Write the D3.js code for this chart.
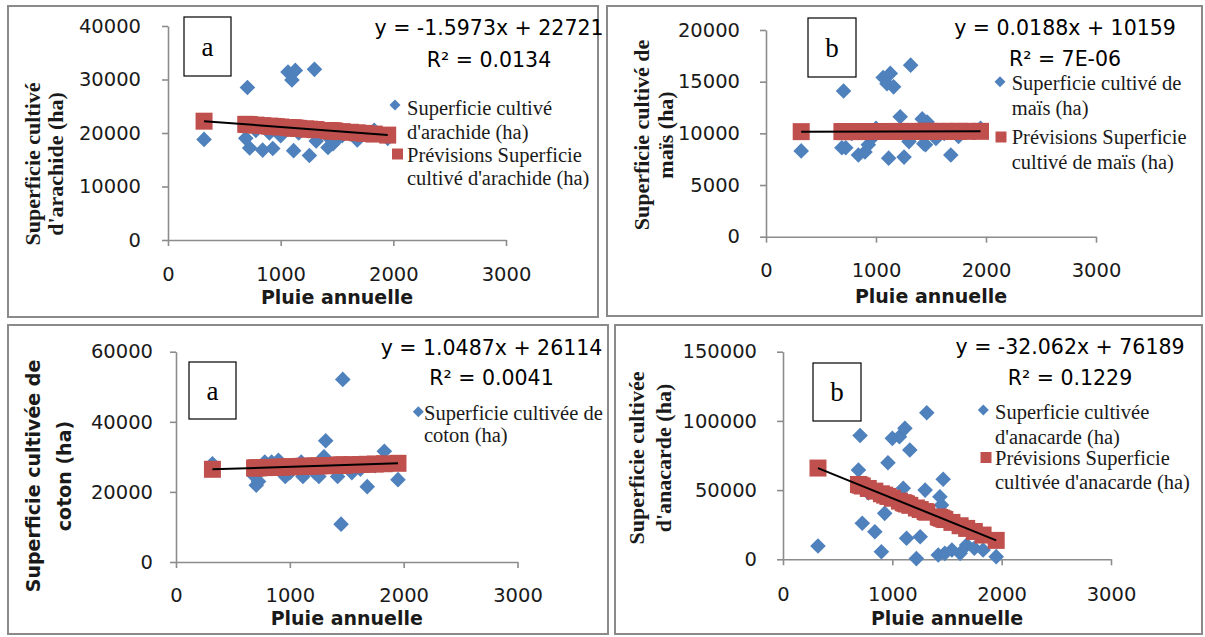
<!DOCTYPE html>
<html>
<head>
<meta charset="utf-8">
<script src="https://cdn.jsdelivr.net/npm/d3@7"></script>
<style>
  body { margin: 0; background: #fff; }
  svg { display: block; }
  .tick text { font-family: "DejaVu Sans", sans-serif; font-size: 19.5px; fill: #1a1a1a; }
  .tick line, .domain { stroke: #8c8c8c; stroke-width: 1.6px; }
</style>
</head>
<body>
<svg id="chart" width="1205" height="637"></svg>
<script>
// Annual rainfall (mm), shared by the four crops
const rainfall = [320, 690, 705, 725, 780, 840, 900, 930, 960, 1000, 1065, 1100, 1115, 1130, 1160,
                  1220, 1255, 1300, 1315, 1420, 1435, 1450, 1465, 1480, 1545, 1620, 1680, 1750, 1830, 1950];

// Cultivated area (ha) per crop, same order as rainfall
const arachide = [18800, 19000, 28500, 17200, 20500, 16800, 20000, 17100, 21000, 19500, 31400, 29900, 16700, 31700, 20000,
                  21000, 15800, 31900, 18500, 17300, 19000, 20500, 18000, 18400, 19500, 20000, 18700, 19800, 20500, 19000];
const mais     = [8300, 8600, 14100, 8600, 10000, 7900, 8200, 8900, 9500, 10500, 15400, 14800, 7600, 15800, 14500,
                  11600, 7700, 9200, 16600, 11400, 9000, 8900, 11100, 10500, 9500, 10000, 7900, 9700, 10300, 10500];
const coton    = [28000, 24500, 21900, 23000, 28500, 28500, 29000, 26000, 24400, 25500, 27500, 28500, 24400, 26500, 27000,
                  25500, 24400, 30000, 34600, 24400, 27500, 10800, 52100, 28000, 25500, 26500, 21500, 27500, 31600, 23500];
const anacarde = [9600, 64500, 89500, 26000, 48000, 19900, 5500, 33200, 69800, 87400, 88600, 51300, 94600, 15200, 79000,
                  500, 16300, 50000, 105900, 3100, 45200, 39200, 57800, 4300, 6700, 4300, 10300, 8000, 6700, 1900];

// Linear trend coefficients (y = slope * x + intercept)
const slopes     = [-1.5973, 0.0188, 1.0487, -32.062];
const intercepts = [22721, 10159, 26114, 76189];
const equationLabels = ["y = -1.5973x + 22721", "y = 0.0188x + 10159", "y = 1.0487x + 26114", "y = -32.062x + 76189"];
const r2Labels = ["R² = 0.0134", "R² = 7E-06", "R² = 0.0041", "R² = 0.1229"];

// Axis ticks
const xTicks = [0, 1000, 2000, 3000];
const yTicksArachide = [0, 10000, 20000, 30000, 40000];
const yTicksMais = [0, 5000, 10000, 15000, 20000];
const yTicksCoton = [0, 20000, 40000, 60000];
const yTicksAnacarde = [0, 50000, 100000, 150000];

// Titles and legend texts
const xTitle = "Pluie annuelle";
const yTitles = [
  ["Superficie cultivé", "d'arachide (ha)"],
  ["Superficie cultivé de", "maïs (ha)"],
  ["Superficie cultivée de", "coton (ha)"],
  ["Superficie cultivée", "d'anacarde (ha)"]
];
const panelLetters = ["a", "b", "a", "b"];
const observedLegend = [
  ["Superficie cultivé", "d'arachide (ha)"],
  ["Superficie cultivé de", "maïs (ha)"],
  ["Superficie cultivée de", "coton (ha)"],
  ["Superficie cultivée", "d'anacarde (ha)"]
];
const forecastLegend = [
  ["Prévisions Superficie", "cultivé d'arachide (ha)"],
  ["Prévisions Superficie", "cultivé de maïs (ha)"],
  null,
  ["Prévisions Superficie", "cultivée d'anacarde (ha)"]
];

const BLUE = "#4f81bd", RED = "#c0504d";
const svg = d3.select("#chart");

// Layout of each of the four chart panels
const panels = [
  { data: arachide, yTicks: yTicksArachide, frame: [8, 6, 598, 317],
    xr: [168, 506], yr: [240, 26], yPad: 21, xPad: 21,
    yTitleX: [32, 55], yTitleY: 164, yTitleFont: "serif",
    box: [184, 17, 231, 76], eqX: 489, eqY: [28, 60],
    leg1: { mx: 395, my: 105, tx: 407, ly: [108, 131.7] },
    leg2: { mx: 397.5, my: 154, tx: 407, ly: [155, 178.3] },
    xTitleY: 297 },
  { data: mais, yTicks: yTicksMais, frame: [607, 6, 1202, 316],
    xr: [766, 1096], yr: [236.7, 30], yPad: 20, xPad: 20,
    yTitleX: [641, 665], yTitleY: 135, yTitleFont: "serif",
    box: [808, 18, 856, 77], eqX: 1065, eqY: [28.3, 59.3],
    leg1: { mx: 1000, my: 81.7, tx: 1011.7, ly: [83.3, 108.3] },
    leg2: { mx: 1001, my: 137, tx: 1011.7, ly: [136.7, 161.7] },
    xTitleY: 296 },
  { data: coton, yTicks: yTicksCoton, frame: [8, 325, 608, 634],
    xr: [176, 517.5], yr: [562, 351.7], yPad: 17, xPad: 20,
    yTitleX: [33, 64], yTitleY: 476, yTitleFont: "sans",
    box: [189, 362, 236, 419], eqX: 491.5, eqY: [348.3, 378.3],
    leg1: { mx: 418.3, my: 411.7, tx: 424, ly: [413.3, 435] },
    leg2: null,
    xTitleY: 618 },
  { data: anacarde, yTicks: yTicksAnacarde, frame: [615, 325, 1202, 634],
    xr: [783, 1111], yr: [559.3, 351.7], yPad: 20, xPad: 22,
    yTitleX: [636.7, 663.3], yTitleY: 458, yTitleFont: "serif",
    box: [813, 363, 861, 421], eqX: 1070, eqY: [346.7, 378.3],
    leg1: { mx: 983.3, my: 410, tx: 995, ly: [411.7, 436.7] },
    leg2: { mx: 986, my: 457.5, tx: 995, ly: [458.3, 481.7] },
    xTitleY: 618 }
];

const diamond = (cx, cy, r) => `M${cx},${cy - r}L${cx + r},${cy}L${cx},${cy + r}L${cx - r},${cy}Z`;

panels.forEach((p, i) => {
  const g = svg.append("g");
  const [fx0, fy0, fx1, fy1] = p.frame;

  // chart frame
  g.append("rect")
    .attr("x", fx0).attr("y", fy0).attr("width", fx1 - fx0).attr("height", fy1 - fy0)
    .attr("fill", "#fff").attr("stroke", "#8a8a8a").attr("stroke-width", 2);

  const yMax = p.yTicks[p.yTicks.length - 1];
  const x = d3.scaleLinear().domain([0, 3000]).range(p.xr);
  const y = d3.scaleLinear().domain([0, yMax]).range(p.yr);

  // axes
  g.append("g").attr("transform", `translate(0,${p.yr[0]})`)
    .call(d3.axisBottom(x).tickValues(xTicks).tickFormat(d3.format("d"))
      .tickSize(6).tickSizeOuter(0).tickPadding(p.xPad));
  g.append("g").attr("transform", `translate(${p.xr[0]},0)`)
    .call(d3.axisLeft(y).tickValues(p.yTicks).tickFormat(d3.format("d"))
      .tickSize(6).tickSizeOuter(0).tickPadding(p.yPad));

  // observed values
  g.append("g").selectAll("path").data(rainfall.map((r, k) => [r, p.data[k]]))
    .join("path")
    .attr("d", d => diamond(x(d[0]), y(d[1]), 7.8))
    .attr("fill", BLUE);

  // forecast values from the trend equation
  const pred = r => slopes[i] * r + intercepts[i];
  g.append("g").selectAll("rect").data(rainfall)
    .join("rect")
    .attr("x", r => x(r) - 8.5).attr("y", r => y(pred(r)) - 8.5)
    .attr("width", 17).attr("height", 17)
    .attr("fill", RED);

  // trend line over the rainfall range
  const ext = d3.extent(rainfall);
  g.append("line")
    .attr("x1", x(ext[0])).attr("y1", y(pred(ext[0])))
    .attr("x2", x(ext[1])).attr("y2", y(pred(ext[1])))
    .attr("stroke", "#000").attr("stroke-width", 2);

  // axis titles
  g.append("text")
    .attr("x", (p.xr[0] + p.xr[1]) / 2).attr("y", p.xTitleY)
    .attr("text-anchor", "middle").attr("dominant-baseline", "central")
    .attr("font-family", "'DejaVu Sans', sans-serif").attr("font-weight", "bold")
    .attr("font-size", 19).attr("fill", "#1a1a1a")
    .text(xTitle);

  const serif = p.yTitleFont === "serif";
  yTitles[i].forEach((line, k) => {
    g.append("text")
      .attr("transform", `translate(${p.yTitleX[k]},${p.yTitleY}) rotate(-90)`)
      .attr("text-anchor", "middle").attr("dominant-baseline", "central")
      .attr("font-family", serif ? "'Liberation Serif', serif" : "'DejaVu Sans', sans-serif")
      .attr("font-weight", "bold")
      .attr("font-size", serif ? 22 : 19).attr("fill", "#1a1a1a")
      .text(line);
  });

  // panel letter box
  const [bx0, by0, bx1, by1] = p.box;
  g.append("rect").attr("x", bx0).attr("y", by0).attr("width", bx1 - bx0).attr("height", by1 - by0)
    .attr("fill", "#fff").attr("stroke", "#000").attr("stroke-width", 1.2);
  g.append("text")
    .attr("x", (bx0 + bx1) / 2).attr("y", (by0 + by1) / 2)
    .attr("text-anchor", "middle").attr("dominant-baseline", "central")
    .attr("font-family", "'Liberation Serif', serif").attr("font-size", 27).attr("fill", "#000")
    .text(panelLetters[i]);

  // trend equation and R²
  [equationLabels[i], r2Labels[i]].forEach((t, k) => {
    g.append("text")
      .attr("x", p.eqX).attr("y", p.eqY[k])
      .attr("text-anchor", "middle").attr("dominant-baseline", "central")
      .attr("font-family", "'DejaVu Sans', sans-serif").attr("font-size", 20.5).attr("fill", "#000")
      .text(t);
  });

  // legend
  const legText = (tx, ly, lines) => lines.forEach((t, k) => {
    g.append("text").attr("x", tx).attr("y", ly[k])
      .attr("dominant-baseline", "central")
      .attr("font-family", "'Liberation Serif', serif").attr("font-size", 20.5).attr("fill", "#1a1a1a")
      .text(t);
  });
  g.append("path").attr("d", diamond(p.leg1.mx, p.leg1.my, 5.5)).attr("fill", BLUE);
  legText(p.leg1.tx, p.leg1.ly, observedLegend[i]);
  if (p.leg2 && forecastLegend[i]) {
    g.append("rect").attr("x", p.leg2.mx - 5.5).attr("y", p.leg2.my - 5.5)
      .attr("width", 11).attr("height", 11).attr("fill", RED);
    legText(p.leg2.tx, p.leg2.ly, forecastLegend[i]);
  }
});
</script>
</body>
</html>
